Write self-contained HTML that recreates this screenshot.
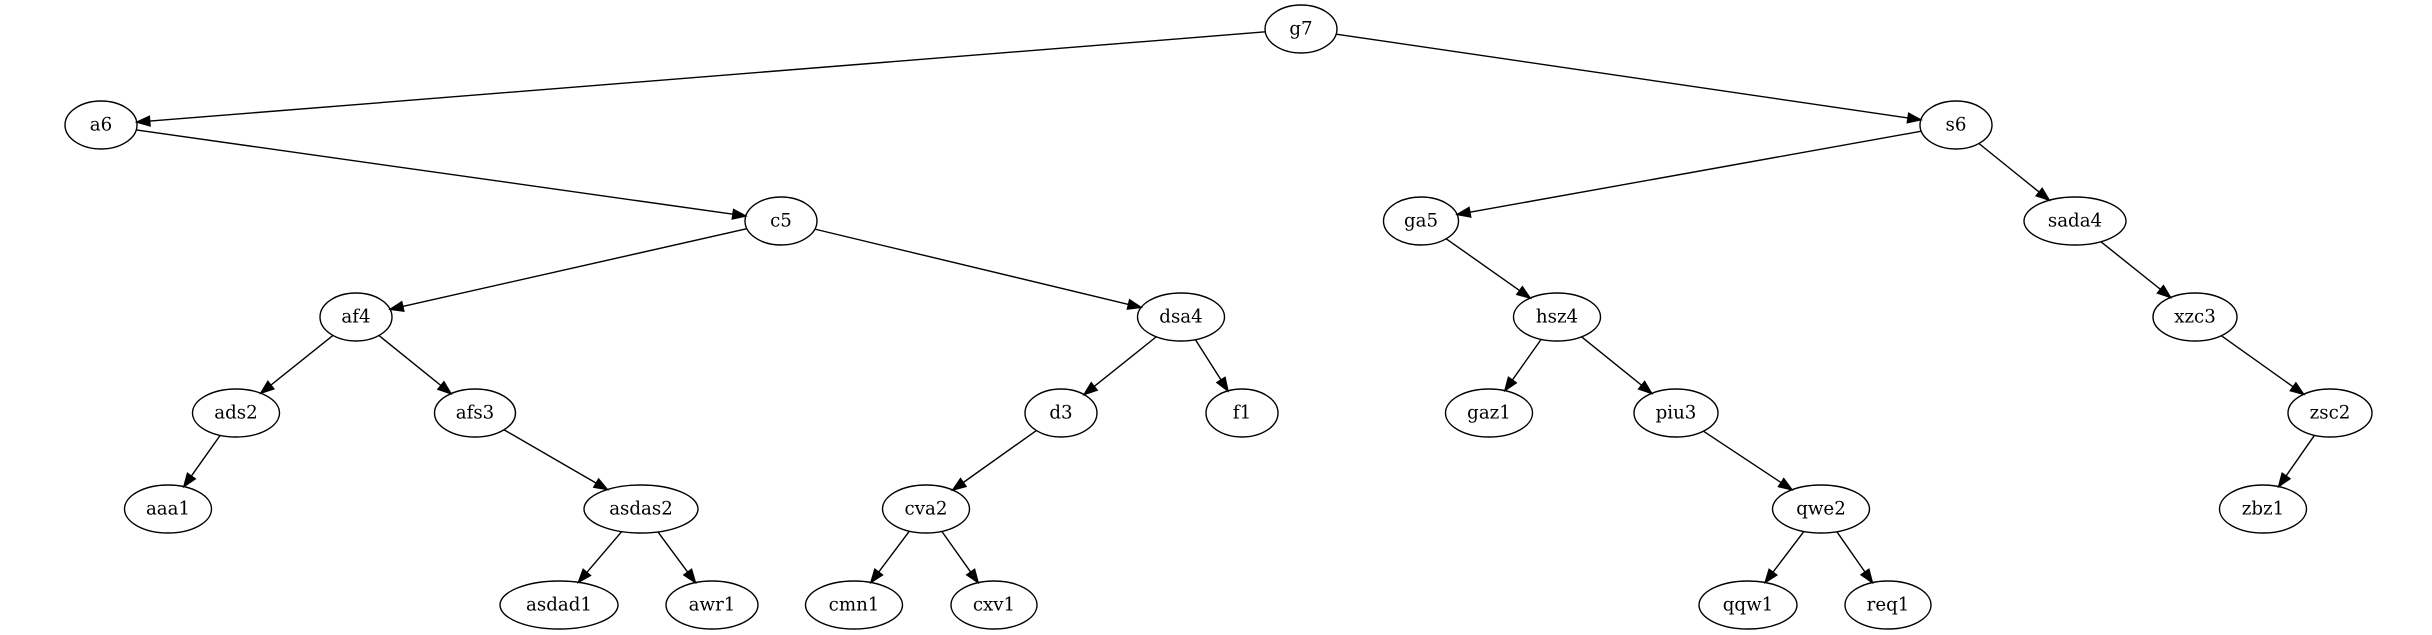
<!DOCTYPE html>
<html><head><meta charset="utf-8"><style>
html,body{margin:0;padding:0;background:#fff;width:2432px;height:635px;overflow:hidden}
svg text{font-family:"DejaVu Serif","Liberation Serif",serif;font-size:18.2px;fill:#000;text-anchor:middle;dominant-baseline:central}
ellipse{fill:none;stroke:#000;stroke-width:1.4}
</style></head><body>
<svg id="g" width="2432" height="635" viewBox="0 0 2432 635" xmlns="http://www.w3.org/2000/svg">
<g id="edges"></g>
<g id="nodes">
<ellipse cx="1301" cy="29" rx="36" ry="24"/><text x="1301" y="29">g7</text>
<ellipse cx="101" cy="125" rx="36" ry="24"/><text x="101" y="125">a6</text>
<ellipse cx="1956" cy="125" rx="36" ry="24"/><text x="1956" y="125">s6</text>
<ellipse cx="781" cy="221" rx="36" ry="24"/><text x="781" y="221">c5</text>
<ellipse cx="1421" cy="221" rx="37.5" ry="24"/><text x="1421" y="221">ga5</text>
<ellipse cx="2075" cy="221" rx="51" ry="24"/><text x="2075" y="221">sada4</text>
<ellipse cx="356" cy="317" rx="36" ry="24"/><text x="356" y="317">af4</text>
<ellipse cx="1181" cy="317" rx="43.5" ry="24"/><text x="1181" y="317">dsa4</text>
<ellipse cx="1557" cy="317" rx="43.5" ry="24"/><text x="1557" y="317">hsz4</text>
<ellipse cx="2195" cy="317" rx="42" ry="24"/><text x="2195" y="317">xzc3</text>
<ellipse cx="236" cy="413" rx="43.5" ry="24"/><text x="236" y="413">ads2</text>
<ellipse cx="475" cy="413" rx="40.5" ry="24"/><text x="475" y="413">afs3</text>
<ellipse cx="1061" cy="413" rx="36" ry="24"/><text x="1061" y="413">d3</text>
<ellipse cx="1242" cy="413" rx="36" ry="24"/><text x="1242" y="413">f1</text>
<ellipse cx="1489" cy="413" rx="43.5" ry="24"/><text x="1489" y="413">gaz1</text>
<ellipse cx="1676" cy="413" rx="42" ry="24"/><text x="1676" y="413">piu3</text>
<ellipse cx="2330" cy="413" rx="42" ry="24"/><text x="2330" y="413">zsc2</text>
<ellipse cx="168" cy="509" rx="43.5" ry="24"/><text x="168" y="509">aaa1</text>
<ellipse cx="641" cy="509" rx="57" ry="24"/><text x="641" y="509">asdas2</text>
<ellipse cx="926" cy="509" rx="43.5" ry="24"/><text x="926" y="509">cva2</text>
<ellipse cx="1821" cy="509" rx="48.5" ry="24"/><text x="1821" y="509">qwe2</text>
<ellipse cx="2263" cy="509" rx="43.5" ry="24"/><text x="2263" y="509">zbz1</text>
<ellipse cx="559" cy="605" rx="59" ry="24"/><text x="559" y="605">asdad1</text>
<ellipse cx="712" cy="605" rx="46" ry="24"/><text x="712" y="605">awr1</text>
<ellipse cx="854" cy="605" rx="48.5" ry="24"/><text x="854" y="605">cmn1</text>
<ellipse cx="994" cy="605" rx="43" ry="24"/><text x="994" y="605">cxv1</text>
<ellipse cx="1748" cy="605" rx="49" ry="24"/><text x="1748" y="605">qqw1</text>
<ellipse cx="1888" cy="605" rx="43" ry="24"/><text x="1888" y="605">req1</text>
</g>
</svg>
<script>
var N={};
document.querySelectorAll('#nodes ellipse').forEach(function(e){
  var t=e.nextElementSibling.textContent;
  N[t]=[+e.getAttribute('cx'),+e.getAttribute('cy'),+e.getAttribute('rx'),+e.getAttribute('ry')];
});
var E="g7-a6 g7-s6 a6-c5 c5-af4 c5-dsa4 af4-ads2 af4-afs3 ads2-aaa1 afs3-asdas2 asdas2-asdad1 asdas2-awr1 dsa4-d3 dsa4-f1 d3-cva2 cva2-cmn1 cva2-cxv1 s6-ga5 s6-sada4 ga5-hsz4 hsz4-gaz1 hsz4-piu3 piu3-qwe2 qwe2-qqw1 qwe2-req1 sada4-xzc3 xzc3-zsc2 zsc2-zbz1".split(' ');
function bnd(n,dx,dy){var k=1/Math.sqrt(dx*dx/(n[2]*n[2])+dy*dy/(n[3]*n[3]));return [n[0]+dx*k,n[1]+dy*k];}
var g=document.getElementById('edges'),ns='http://www.w3.org/2000/svg',h='';
E.forEach(function(s){
  var p=s.split('-'),a=N[p[0]],b=N[p[1]];
  var dx=b[0]-a[0],dy=b[1]-a[1],L=Math.hypot(dx,dy),ux=dx/L,uy=dy/L;
  var s0=bnd(a,dx,dy),t=bnd(b,-dx,-dy);
  var al=13,aw=4.8;
  var bx=t[0]-ux*al,by=t[1]-uy*al;
  h+='<line x1="'+s0[0]+'" y1="'+s0[1]+'" x2="'+bx+'" y2="'+by+'" stroke="#000" stroke-width="1.4"/>';
  h+='<polygon points="'+t[0]+','+t[1]+' '+(bx-uy*aw)+','+(by+ux*aw)+' '+(bx+uy*aw)+','+(by-ux*aw)+'" fill="#000" stroke="#000" stroke-width="1.4"/>';
});
g.innerHTML=h;
</script>
</body></html>
